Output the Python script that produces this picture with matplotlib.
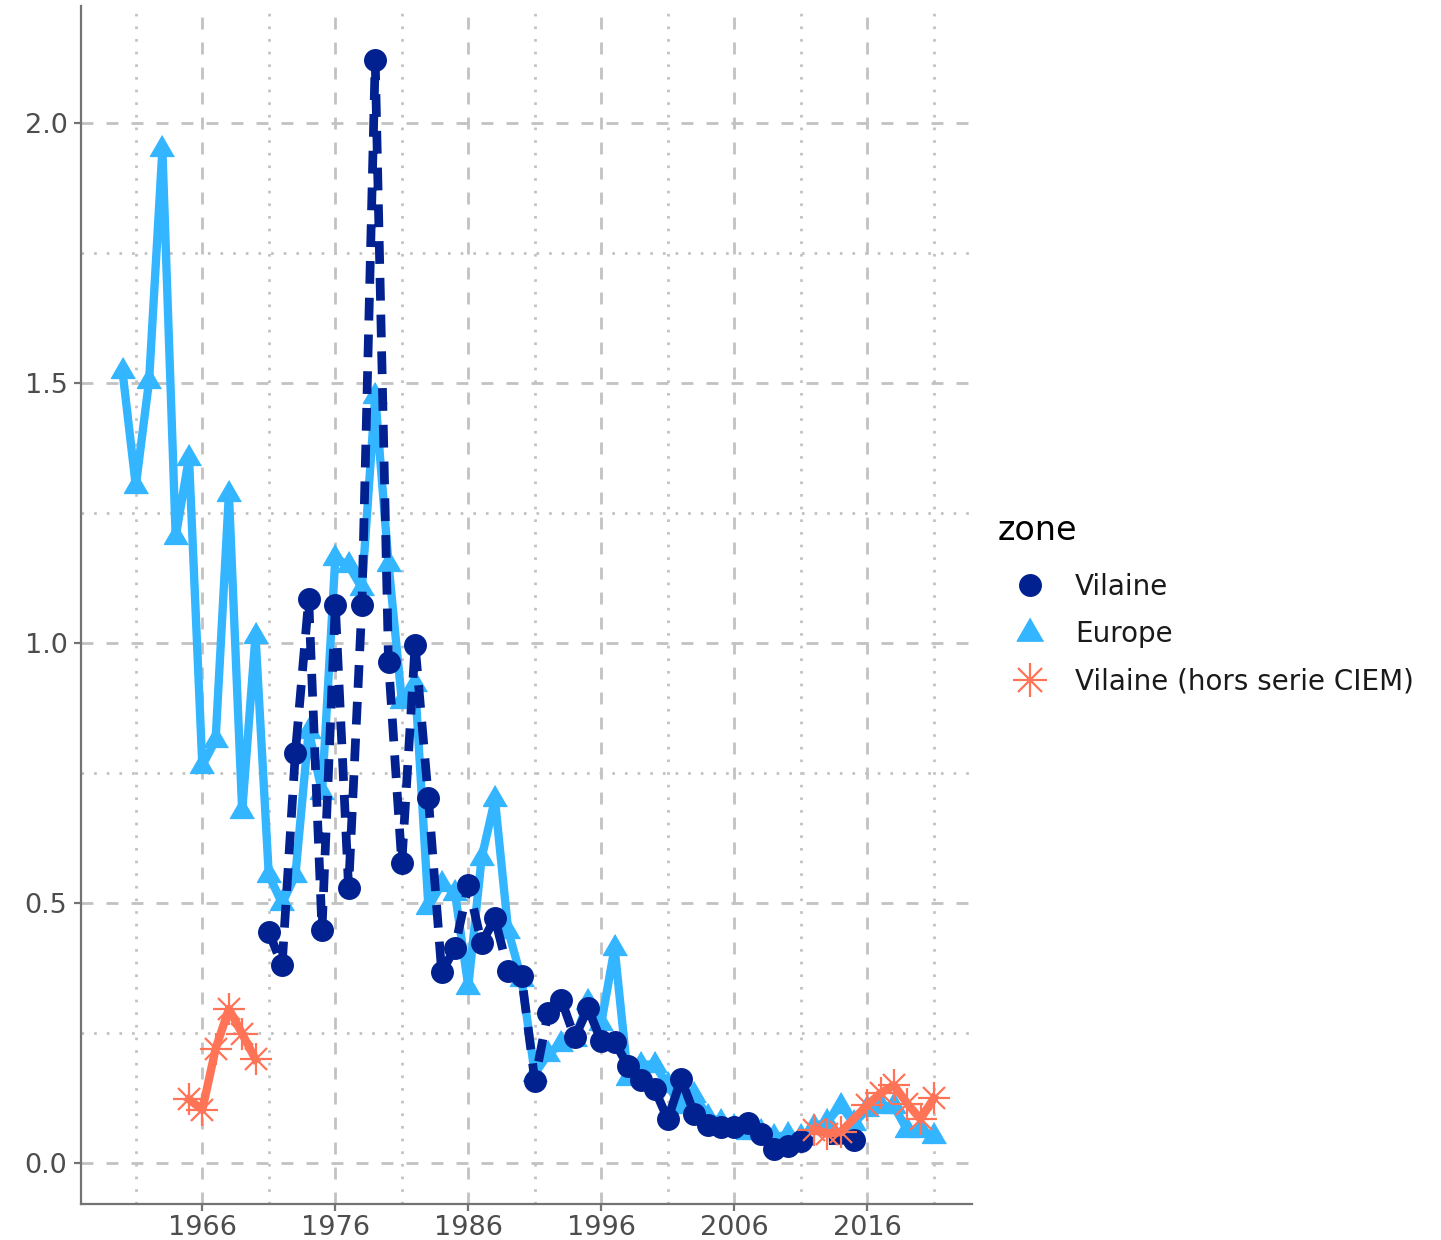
import matplotlib
matplotlib.use("Agg")
import matplotlib.pyplot as plt
from matplotlib.lines import Line2D
from matplotlib.ticker import FixedLocator

plt.rcParams['font.family'] = ['DejaVu Sans']

# ---------------- data ----------------
europe_years = list(range(1960, 2022))
europe_vals = [1.523, 1.303, 1.505, 1.95, 1.205, 1.357, 0.765, 0.814, 1.288, 0.677,
               1.015, 0.554, 0.50, 0.554, 0.832, 0.714, 1.164, 1.15, 1.106, 1.476,
               1.153, 0.89, 0.921, 0.493, 0.537, 0.52, 0.34, 0.587, 0.70, 0.447,
               0.355, 0.172, 0.21, 0.23, 0.24, 0.31, 0.27, 0.414, 0.165, 0.19,
               0.19, 0.15, 0.11, 0.132, 0.09, 0.08, 0.07, 0.06, 0.06, 0.05,
               0.055, 0.05, 0.07, 0.08, 0.111, 0.077, 0.104, 0.11, 0.11, 0.064,
               0.064, 0.052]

vilaine_years = list(range(1971, 2012)) + [2015]
vilaine_vals = [0.445, 0.381, 0.79, 1.085, 0.449, 1.074, 0.529, 1.074, 2.121, 0.965,
                0.577, 0.997, 0.702, 0.367, 0.415, 0.535, 0.423, 0.471, 0.37, 0.36,
                0.159, 0.29, 0.314, 0.242, 0.298, 0.235, 0.233, 0.188, 0.16, 0.143,
                0.085, 0.162, 0.095, 0.074, 0.07, 0.07, 0.078, 0.056, 0.028, 0.034,
                0.042, 0.045]

hors_years_a = [1965, 1966, 1967, 1968, 1969, 1970]
hors_vals_a = [0.123, 0.103, 0.22, 0.297, 0.249, 0.20]
hors_years_b = [2012, 2013, 2014, 2016, 2017, 2018, 2019, 2020, 2021]
hors_vals_b = [0.065, 0.057, 0.06, 0.112, 0.135, 0.15, 0.115, 0.085, 0.125]

x_major = [1966, 1976, 1986, 1996, 2006, 2016]
x_minor = [1961, 1971, 1981, 1991, 2001, 2011, 2021]
y_major = [0.0, 0.5, 1.0, 1.5, 2.0]
y_minor = [0.25, 0.75, 1.25, 1.75]
y_labels = ["0.0", "0.5", "1.0", "1.5", "2.0"]

legend_title = "zone"
legend_labels = ["Vilaine", "Europe", "Vilaine (hors serie CIEM)"]

# ---------------- style ----------------
NAVY = "#00218F"
LBLUE = "#33B5FF"
SALMON = "#FF7356"
GRID = "#C2C2C2"
AXC = "#737373"

W, H = 1441, 1240
fig = plt.figure(figsize=(W / 100, H / 100), dpi=100)
left, right, bottom, top = 81.3, 971.5, 1204.3, 5.8
ax = fig.add_axes([left / W, 1 - bottom / H, (right - left) / W, (bottom - top) / H])

tri = [(0, 1.1547), (-1, -0.5774), (1, -0.5774)]

# Europe
ax.plot(europe_years, europe_vals, color=LBLUE, lw=6, solid_joinstyle='round', zorder=3)
ax.plot(europe_years, europe_vals, ls='none', marker=tri, ms=20, color=LBLUE, zorder=3)

# Vilaine
ax.plot(vilaine_years, vilaine_vals, color=NAVY, lw=6.3, ls=(0, (2.6, 1.6)),
        dash_capstyle='butt', dash_joinstyle='round', zorder=4)
ax.plot(vilaine_years, vilaine_vals, ls='none', marker='o', ms=15.5, color=NAVY, zorder=4)

# Vilaine hors serie
for yrs, vals in [(hors_years_a, hors_vals_a), (hors_years_b, hors_vals_b)]:
    ax.plot(yrs, vals, color=SALMON, lw=6, solid_joinstyle='round', zorder=5)
    ax.plot(yrs, vals, ls='none', marker='+', ms=23, mew=1.6, color=SALMON, zorder=5)
    ax.plot(yrs, vals, ls='none', marker='x', ms=16, mew=1.6, color=SALMON, zorder=5)

# axes
ax.set_xlim(1966 + (left - 202.3) / 13.3, 1966 + (right - 202.3) / 13.3)
ax.set_ylim((1163.3 - bottom) / 520, (1163.3 - top) / 520)
ax.xaxis.set_major_locator(FixedLocator(x_major))
ax.xaxis.set_minor_locator(FixedLocator(x_minor))
ax.yaxis.set_major_locator(FixedLocator(y_major))
ax.yaxis.set_minor_locator(FixedLocator(y_minor))
ax.set_yticklabels(y_labels)
ax.set_xticklabels([str(v) for v in x_major])

ax.grid(which='major', color=GRID, lw=2.0, ls=(0, (4.3, 4.7)))
ax.grid(which='minor', color=GRID, lw=2.0, ls=(0, (0.95, 3.6)))
ax.set_axisbelow(True)

for s in ['top', 'right']:
    ax.spines[s].set_visible(False)
for s in ['left', 'bottom']:
    ax.spines[s].set_color(AXC)
    ax.spines[s].set_linewidth(1.6)

ax.tick_params(which='major', length=5, width=1.6, color=AXC, labelsize=19.5,
               labelcolor="#4D4D4D")
ax.tick_params(axis='y', pad=5)
ax.tick_params(axis='x', pad=3)
ax.tick_params(which='minor', length=0)

# legend
LFS = 20
h_v = Line2D([], [], ls='none', marker='o', ms=15.5, color=NAVY)
h_e = Line2D([], [], ls='none', marker=tri, ms=22, color=LBLUE)
h_s1 = Line2D([], [], ls='none', marker='+', ms=24, mew=1.6, color=SALMON)
h_s2 = Line2D([], [], ls='none', marker='x', ms=17, mew=1.6, color=SALMON)
leg = fig.legend([h_v, h_e, (h_s1, h_s2)], legend_labels, title=legend_title,
                 loc='upper left', bbox_to_anchor=(998 / W, 1 - 514 / H),
                 frameon=False, fontsize=LFS, title_fontsize=24, alignment='left',
                 handlelength=64 / (LFS * 100 / 72), handletextpad=13 / (LFS * 100 / 72),
                 labelspacing=0.70, borderpad=0, borderaxespad=0)
leg._legend_box.sep = 0.70 * LFS + 4.7
for t in leg.get_texts():
    t.set_color("#1A1A1A")

fig.savefig("out.png", dpi=100)
